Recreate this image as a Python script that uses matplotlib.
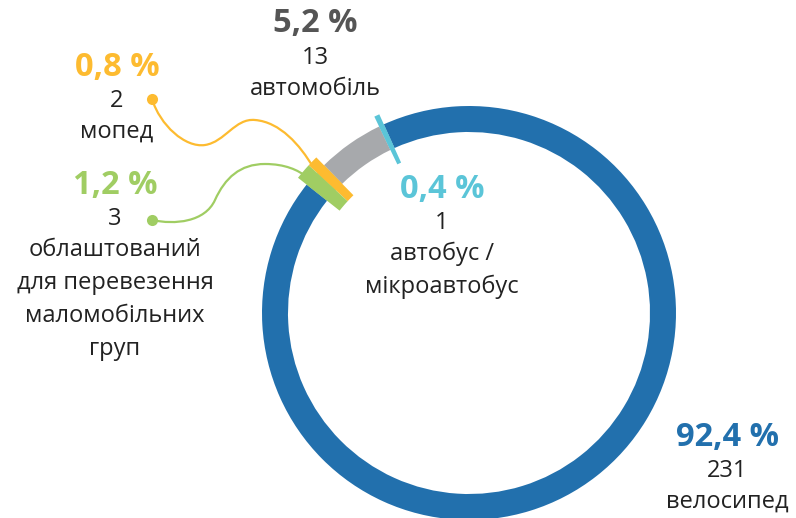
import matplotlib.pyplot as plt
from matplotlib.path import Path
from matplotlib.patches import PathPatch

# data
labels = ["автобус /\nмікроавтобус", "автомобіль", "мопед",
          "облаштований\nдля перевезення\nмаломобільних\nгруп", "велосипед"]
counts = [1, 13, 2, 3, 231]
colors = ["#5bc5d8", "#a7a9ac", "#fdbb30", "#a0cd63", "#2270ad"]
pct_colors = ["#5bc5d8", "#555555", "#fdbb30", "#a0cd63", "#2270ad"]
highlight = [True, False, True, True, False]

W, H = 796, 518
total = sum(counts)
pcts = [c / total * 100 for c in counts]

plt.rcParams['font.family'] = ['Open Sans', 'DejaVu Sans']

fig = plt.figure(figsize=(W / 100, H / 100), dpi=100)
ax = fig.add_axes([0, 0, 1, 1])

cx, cy, R = 469, H - 313, 207  # y flipped, pixel units

# main ring
ax.pie(counts, colors=colors, startangle=114.3, counterclock=True,
       radius=R, center=(cx, cy), wedgeprops=dict(width=26, edgecolor='none'))
# small slices drawn as wider marks
hl_colors = [c if h else 'none' for c, h in zip(colors, highlight)]
ax.pie(counts, colors=hl_colors, startangle=114.3, counterclock=True,
       radius=R + 11, center=(cx, cy), wedgeprops=dict(width=53, edgecolor='none'))

ax.set_xlim(0, W)
ax.set_ylim(0, H)
ax.set_aspect('equal')
ax.axis('off')

# label positions (pixel coords, y from top)
label_pos = [(442, 189), (315, 24), (117, 67), (115, 185), (727, 437)]
line_h = 33
for i, (x, y) in enumerate(label_pos):
    ax.text(x, H - y, f"{pcts[i]:.1f}".replace('.', ',') + " %", ha='center', va='center',
            fontsize=23.5, fontweight='bold', color=pct_colors[i])
    ax.text(x, H - y - line_h - 1, str(counts[i]), ha='center', va='center',
            fontsize=17, color='#222222')
    for j, ln in enumerate(labels[i].split('\n')):
        ax.text(x, H - y - line_h * (j + 2) + 1, ln, ha='center', va='center',
                fontsize=17, color='#222222')

# connector curves
def curve(pts, color):
    verts = [(px, H - py) for px, py in pts]
    codes = [Path.MOVETO] + [Path.CURVE4] * (len(verts) - 1)
    ax.add_patch(PathPatch(Path(verts, codes), fc='none', ec=color, lw=1.6))
    ax.plot(verts[0][0], verts[0][1], 'o', color=color, ms=8, mec='none')

curve([(152, 99), (160, 125), (185, 148), (205, 145),
       (225, 142), (235, 118), (255, 120),
       (280, 122), (300, 145), (313, 167)], colors[2])
curve([(152, 220), (175, 225), (205, 222), (215, 200),
       (225, 178), (240, 164), (265, 164),
       (285, 164), (298, 170), (307, 177)], colors[3])

fig.savefig("out.png", dpi=100)
